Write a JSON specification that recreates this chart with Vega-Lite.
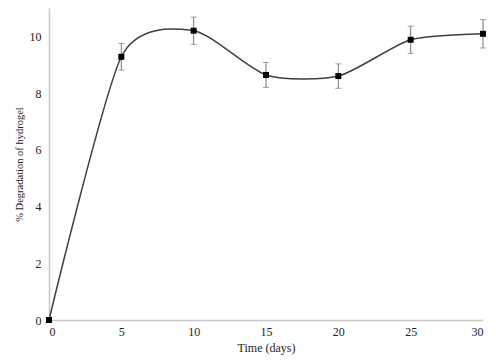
{
  "$schema": "https://vega.github.io/schema/vega-lite/v6.json",
  "width": 434,
  "height": 312,
  "autosize": "none",
  "padding": {"left": 49, "top": 8, "right": 13, "bottom": 41},
  "background": "white",
  "config": {
    "view": {"stroke": null},
    "font": "Liberation Serif, Times New Roman, serif",
    "axis": {
      "grid": false,
      "ticks": false,
      "domainColor": "#c8c8c8",
      "domainWidth": 1.5,
      "labelFont": "Liberation Serif, Times New Roman, serif",
      "titleFont": "Liberation Serif, Times New Roman, serif",
      "labelFontSize": 12,
      "titleFontSize": 11,
      "labelColor": "#222",
      "titleColor": "#222",
      "titleFontWeight": "normal"
    }
  },
  "data": {
    "values": [
      {"time": 0, "deg": 0, "lo": 0, "hi": 0},
      {"time": 5, "deg": 9.28, "lo": 8.81, "hi": 9.75},
      {"time": 10, "deg": 10.2, "lo": 9.72, "hi": 10.68},
      {"time": 15, "deg": 8.64, "lo": 8.2, "hi": 9.08},
      {"time": 20, "deg": 8.6, "lo": 8.17, "hi": 9.03},
      {"time": 25, "deg": 9.88, "lo": 9.4, "hi": 10.36},
      {"time": 30, "deg": 10.09, "lo": 9.59, "hi": 10.59}
    ]
  },
  "encoding": {
    "x": {
      "field": "time",
      "type": "quantitative",
      "scale": {"domain": [0, 30], "nice": false},
      "axis": {"values": [0, 5, 10, 15, 20, 25, 30], "title": "Time (days)", "titleFontSize": 12, "labelPadding": 6, "titlePadding": 5}
    }
  },
  "layer": [
    {
      "mark": {"type": "line", "interpolate": "cardinal", "tension": 0.3, "color": "#404040", "strokeWidth": 1.5},
      "encoding": {
        "y": {
          "field": "deg",
          "type": "quantitative",
          "scale": {"domain": [0, 11], "nice": false},
          "axis": {"values": [0, 2, 4, 6, 8, 10], "title": "% Degradation of hydrogel", "titleFontSize": 10.5, "labelPadding": 8, "titlePadding": 5}
        }
      }
    },
    {
      "mark": {"type": "rule", "color": "#777", "strokeWidth": 1},
      "encoding": {
        "y": {"field": "lo", "type": "quantitative"},
        "y2": {"field": "hi"}
      }
    },
    {
      "mark": {"type": "tick", "color": "#777", "size": 6, "thickness": 1, "orient": "horizontal"},
      "encoding": {"y": {"field": "lo", "type": "quantitative"}}
    },
    {
      "mark": {"type": "tick", "color": "#777", "size": 6, "thickness": 1, "orient": "horizontal"},
      "encoding": {"y": {"field": "hi", "type": "quantitative"}}
    },
    {
      "mark": {"type": "square", "color": "black", "size": 36, "opacity": 1, "filled": true},
      "encoding": {"y": {"field": "deg", "type": "quantitative"}}
    }
  ]
}
